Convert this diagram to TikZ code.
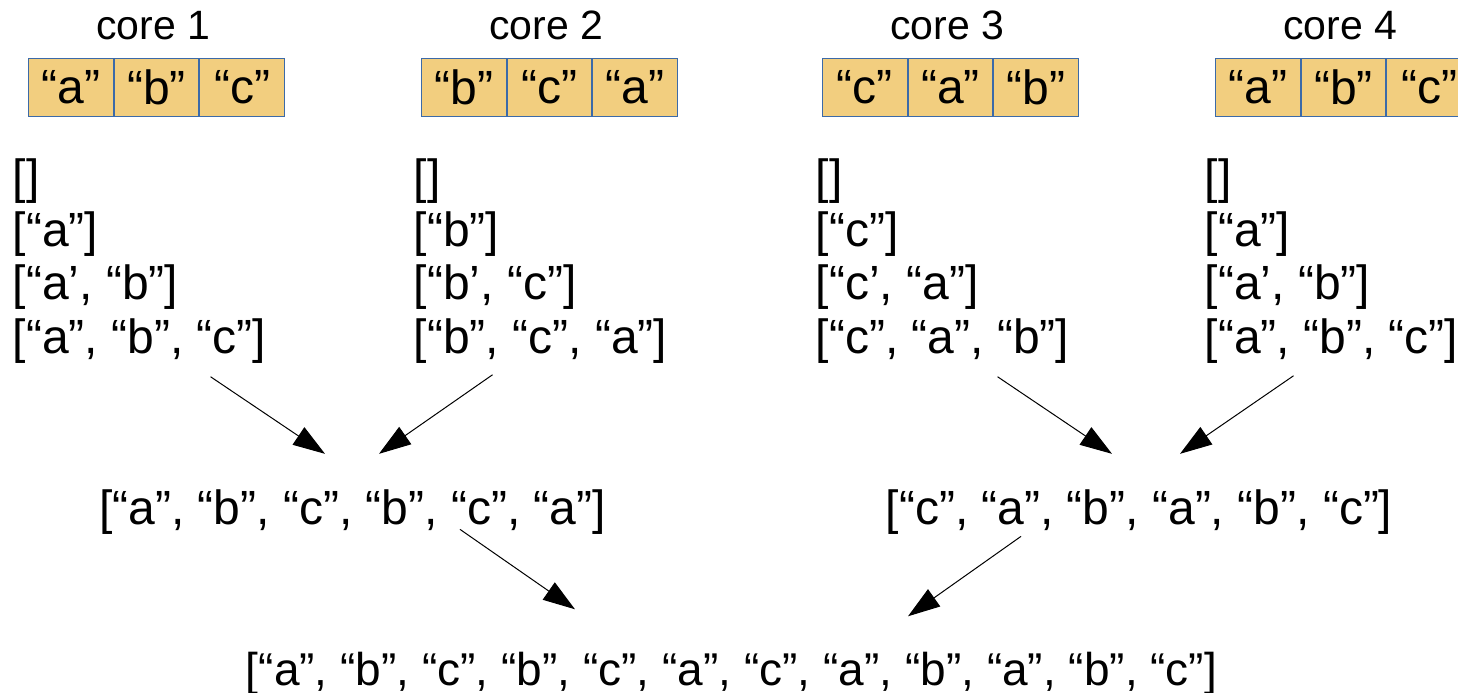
\documentclass[tikz,border=0pt]{standalone}
\usepackage{fontspec}
\setmainfont{Liberation Sans}
\usetikzlibrary{positioning, arrows.meta, calc}
\definecolor{cellfill}{RGB}{242,206,127}
\definecolor{cellline}{RGB}{60,106,168}

\tikzset{
  cell/.style={draw=cellline, fill=cellfill, line width=0.5pt, minimum width=42.3pt, minimum height=29pt, inner sep=0pt, font=\fontsize{24pt}{27pt}\selectfont},
  corelbl/.style={inner sep=0pt, font=\fontsize{20.5pt}{25pt}\selectfont},
  listtxt/.style={inner sep=0pt, align=left, font=\fontsize{24pt}{26.7pt}\selectfont},
  arr/.style={-{Triangle[length=16pt, width=10.5pt]}, line width=0.5pt},
}

\begin{document}
\begin{tikzpicture}[x=0.5pt, y=-0.5pt]
    \useasboundingbox (0,0) rectangle (1458,692);
    % cores and their arrays
    \node (c1a) [cell, anchor=north west] at (28,58) {“a”};
    \node (c1b) [cell, right=0pt of c1a] {“b”};
    \node (c1c) [cell, right=0pt of c1b] {“c”};
    \node (core1) [corelbl, above=9pt of c1b, xshift=-1.5pt] {core 1};
    \node (c2a) [cell, anchor=north west] at (421,58) {“b”};
    \node (c2b) [cell, right=0pt of c2a] {“c”};
    \node (c2c) [cell, right=0pt of c2b] {“a”};
    \node (core2) [corelbl, above=9pt of c2b, xshift=-1.5pt] {core 2};
    \node (c3a) [cell, anchor=north west] at (822,58) {“c”};
    \node (c3b) [cell, right=0pt of c3a] {“a”};
    \node (c3c) [cell, right=0pt of c3b] {“b”};
    \node (core3) [corelbl, above=9pt of c3b, xshift=-1.5pt] {core 3};
    \node (c4a) [cell, anchor=north west] at (1215,58) {“a”};
    \node (c4b) [cell, right=0pt of c4a] {“b”};
    \node (c4c) [cell, right=0pt of c4b] {“c”};
    \node (core4) [corelbl, above=9pt of c4b, xshift=-1.5pt] {core 4};
    % partial results per core
    \node (list1) [listtxt, anchor=north west] at (12.5,158) {[]\\{[}“a”]\\{[}“a’, “b”]\\{[}“a”, “b”, “c”]};
    \node (list2) [listtxt, anchor=north west] at (413.5,158) {[]\\{[}“b”]\\{[}“b’, “c”]\\{[}“b”, “c”, “a”]};
    \node (list3) [listtxt, anchor=north west] at (815.5,158) {[]\\{[}“c”]\\{[}“c’, “a”]\\{[}“c”, “a”, “b”]};
    \node (list4) [listtxt, anchor=north west] at (1204.5,158) {[]\\{[}“a”]\\{[}“a’, “b”]\\{[}“a”, “b”, “c”]};
    % merged results
    \node (merge12) [listtxt, anchor=base] at (352.5,524) {[“a”, “b”, “c”, “b”, “c”, “a”]};
    \node (merge34) [listtxt, anchor=base] at (1139,524) {[“c”, “a”, “b”, “a”, “b”, “c”]};
    \node (final) [listtxt, anchor=base, font=\fontsize{23pt}{26pt}\selectfont] at (731.5,685) {[“a”, “b”, “c”, “b”, “c”, “a”, “c”, “a”, “b”, “a”, “b”, “c”]};
    % reductions
    \draw [arr] ($(list1.south)+(71,13)$) -- ($(merge12.north)+(-27.5,-35)$);
    \draw [arr] ($(list2.south)+(-48,11)$) -- ($(merge12.north)+(26.5,-35)$);
    \draw [arr] ($(list3.south)+(55,13)$) -- ($(merge34.north)+(-27,-35)$);
    \draw [arr] ($(list4.south)+(-38,12)$) -- ($(merge34.north)+(41,-35)$);
    \draw [arr] ($(merge12.south)+(107.5,-5)$) -- ($(final.north)+(-156.5,-42)$);
    \draw [arr] ($(merge34.south)+(-118,2)$) -- ($(final.north)+(176.5,-35)$);
\end{tikzpicture}
\end{document}
